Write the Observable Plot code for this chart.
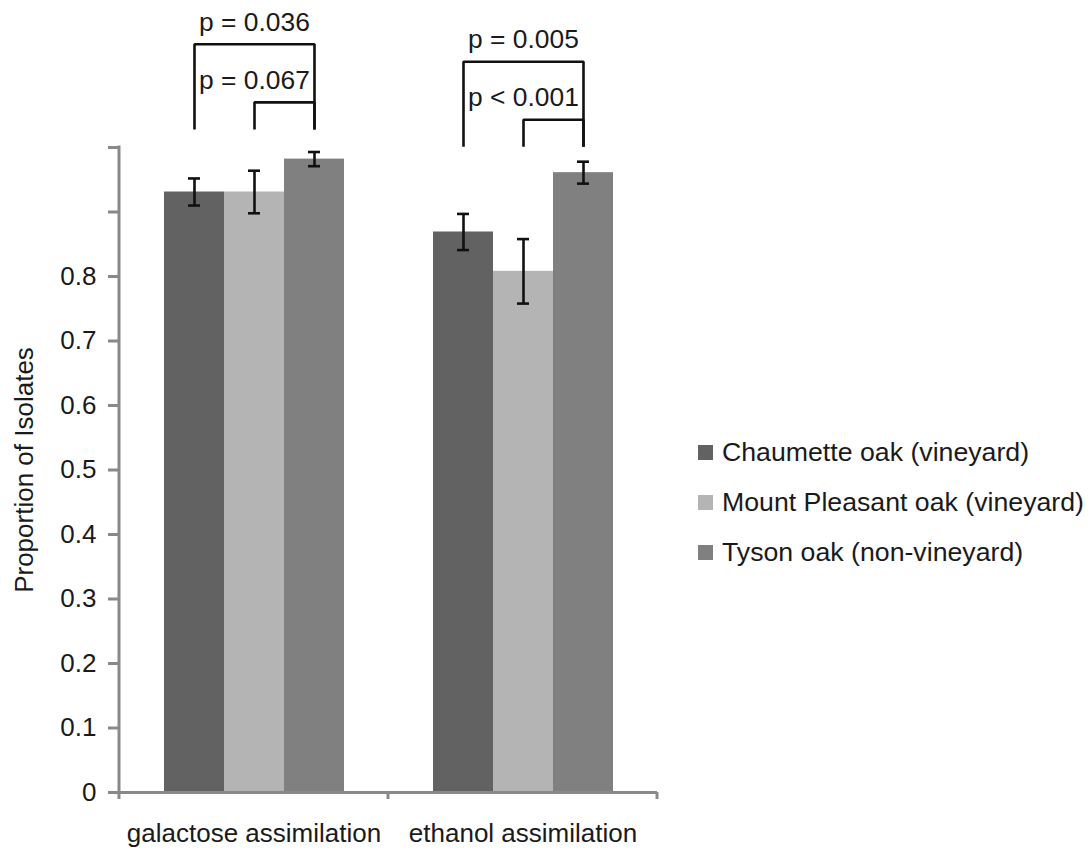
<!DOCTYPE html>
<html>
<head>
<meta charset="utf-8">
<script src="https://cdn.jsdelivr.net/npm/d3@7"></script>
<script src="https://cdn.jsdelivr.net/npm/@observablehq/plot@0.6"></script>
<style>
  body { margin: 0; background: #fff; font-family: "Liberation Sans", Arial, sans-serif; }
  #wrap { position: relative; width: 1092px; height: 850px; }
  #legend { position: absolute; left: 698px; top: 427px; }
  .row { display: flex; align-items: center; height: 50px; font-size: 26.7px; color: #1a1a1a; white-space: nowrap; }
  .swatch { width: 15px; height: 15px; margin-right: 9px; flex: none; }
</style>
</head>
<body>
<div id="wrap"><div id="legend"></div></div>
<script>
// Assimilation tests and oak sites
const categories = ["galactose assimilation", "ethanol assimilation"];
const series = ["Chaumette oak (vineyard)", "Mount Pleasant oak (vineyard)", "Tyson oak (non-vineyard)"];
const colors = ["#626262", "#b3b4b3", "#7f807f"];

// Proportion of isolates able to assimilate, per test
const chaumette = [0.931, 0.869];
const mountPleasant = [0.931, 0.808];
const tyson = [0.982, 0.961];

// Standard errors, per test
const chaumetteErr = [0.021, 0.028];
const mountPleasantErr = [0.033, 0.050];
const tysonErr = [0.011, 0.017];

// Y axis ticks and their labels
const yTicks = [0, 0.1, 0.2, 0.3, 0.4, 0.5, 0.6, 0.7, 0.8, 0.9, 1.0];
const yTickLabels = ["0", "0.1", "0.2", "0.3", "0.4", "0.5", "0.6", "0.7", "0.8", "", ""];

// Pairwise comparisons
const compCategory = ["galactose assimilation", "galactose assimilation", "ethanol assimilation", "ethanol assimilation"];
const compFrom = ["Chaumette oak (vineyard)", "Mount Pleasant oak (vineyard)", "Chaumette oak (vineyard)", "Mount Pleasant oak (vineyard)"];
const compTo = ["Tyson oak (non-vineyard)", "Tyson oak (non-vineyard)", "Tyson oak (non-vineyard)", "Tyson oak (non-vineyard)"];
const compP = ["p = 0.036", "p = 0.067", "p = 0.005", "p < 0.001"];

// Build the long table for the bars
const values = [chaumette, mountPleasant, tyson];
const errors = [chaumetteErr, mountPleasantErr, tysonErr];
const rows = [];
categories.forEach((c, ci) => {
  series.forEach((s, si) => {
    const v = values[si][ci], e = errors[si][ci];
    rows.push({category: c, series: s, value: v, lo: v - e, hi: v + e});
  });
});

// Bracket geometry (in y units): foot level per test, rise per bracket
const footLevel = {"galactose assimilation": 1.03, "ethanol assimilation": 1.003};
const rise = {"Chaumette oak (vineyard)": 0.13, "Mount Pleasant oak (vineyard)": 0.04};
const labelGap = 0.034;

const bracketPts = [];
const bracketLabels = [];
compP.forEach((p, i) => {
  const c = compCategory[i];
  const foot = footLevel[c];
  const top = foot + rise[compFrom[i]];
  bracketPts.push(
    {id: i, category: c, series: compFrom[i], y: foot},
    {id: i, category: c, series: compFrom[i], y: top},
    {id: i, category: c, series: compTo[i], y: top},
    {id: i, category: c, series: compTo[i], y: foot}
  );
  bracketLabels.push({category: c, series: series[1], y: top + labelGap, text: p});
});

const axisColor = "#898989";
const inkColor = "#1a1a1a";

const chart = Plot.plot({
  width: 680,
  height: 850,
  marginLeft: 118,
  marginRight: 23,
  marginTop: 147,
  marginBottom: 58,
  style: {fontFamily: "'Liberation Sans', Arial, sans-serif", fontSize: "26px", color: inkColor, background: "white"},
  fx: {domain: categories, padding: 0, label: null},
  x: {domain: series, paddingInner: 0, paddingOuter: 0.709, axis: null},
  y: {domain: [0, 1], axis: null},
  color: {domain: series, range: colors},
  marks: [
    Plot.barY(rows, {fx: "category", x: "series", y: "value", fill: "series"}),
    Plot.ruleY([0], {stroke: axisColor, strokeWidth: 3}),
    Plot.ruleX(rows, {fx: "category", x: "series", y1: "lo", y2: "hi", stroke: "#111", strokeWidth: 2.6}),
    Plot.tickY(rows, {fx: "category", x: "series", y: "lo", stroke: "#111", strokeWidth: 2.6, insetLeft: 24, insetRight: 24}),
    Plot.tickY(rows, {fx: "category", x: "series", y: "hi", stroke: "#111", strokeWidth: 2.6, insetLeft: 24, insetRight: 24}),
    Plot.line(bracketPts, {fx: "category", x: "series", y: "y", z: "id", stroke: "#111", strokeWidth: 2.6, strokeLinejoin: "miter", strokeLinecap: "square"}),
    Plot.text(bracketLabels, {fx: "category", x: "series", y: "y", text: "text", fontSize: 26.4, fill: inkColor}),
    Plot.axisY(yTicks, {
      tickFormat: d => yTickLabels[yTicks.indexOf(d)],
      tickSize: 11,
      tickPadding: 12,
      stroke: axisColor,
      strokeWidth: 3,
      fill: inkColor,
      fontSize: 26,
      label: "Proportion of Isolates",
      labelAnchor: "center",
      labelArrow: "none",
      labelOffset: 105
    }),
    Plot.axisFx({anchor: "bottom", tickSize: 0, tickPadding: 31, fontSize: 26, fill: inkColor, label: null})
  ]
});

document.getElementById("wrap").prepend(chart);

// Axis lines and category dividers, placed with the plot's own scales
const fx = chart.scale("fx");
const ys = chart.scale("y");
const svg = d3.select(chart);
const left = fx.apply(categories[0]);
const right = fx.apply(categories[categories.length - 1]) + fx.bandwidth;
const y0 = ys.apply(0), y1 = ys.apply(1);
const g = svg.append("g").attr("stroke", axisColor).attr("stroke-width", 3).attr("fill", "none");
g.append("line").attr("x1", left).attr("x2", left).attr("y1", y0 + 1.5).attr("y2", y1 - 1.5);
const bounds = categories.map(c => fx.apply(c)).concat([right]);
bounds.forEach(b => {
  g.append("line").attr("x1", b).attr("x2", b).attr("y1", y0).attr("y2", y0 + 7);
});

// Legend
const legend = d3.select("#legend");
series.forEach((s, i) => {
  const row = legend.append("div").attr("class", "row");
  row.append("div").attr("class", "swatch").style("background", colors[i]);
  row.append("span").text(s);
});
</script>
</body>
</html>
